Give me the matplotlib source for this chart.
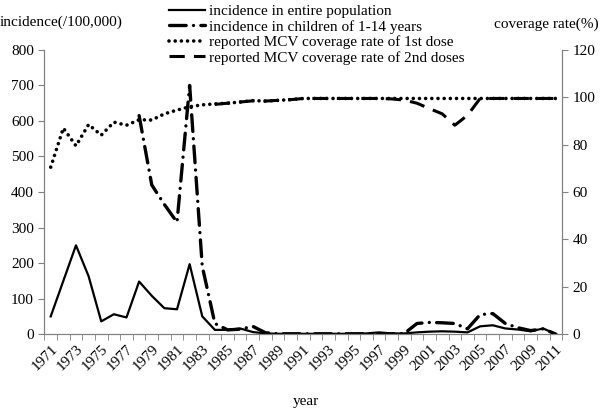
import numpy as np
import matplotlib
matplotlib.use("Agg")
import matplotlib.pyplot as plt

plt.rcParams['font.family'] = ['Liberation Serif', 'DejaVu Serif']

nan = np.nan
years = list(range(1971, 2012))

# incidence in entire population (/100,000)
incid_all = [50, 150, 250, 163, 36, 56, 47, 148, 108, 73,
             70, 197, 50, 12, 12, 16, 6, 2, 1, 1,
             1, 1, 1, 1, 1, 2, 5, 2, 2, 5,
             7, 8, 7, 5, 22, 25, 16, 13, 8, 16, 0]

# incidence in children of 1-14 years (/100,000)
incid_child = [nan, nan, nan, nan, nan, nan, nan, 615, 420, 365,
               315, 700, 191, 30, 12, 14, 22, 4, 1, 1,
               1, 1, 1, 1, 1, 1, 1, 1, 2, 30,
               33, 32, 30, 15, 55, 58, 30, 18, 10, 15, 0]

# reported MCV coverage rate, 1st dose (%)
cov_1st = [70.5, 87, 79.5, 88.5, 84, 89.5, 88.2, 90.5, 90.4, 93,
           94.6, 96, 96.8, 97.2, 97.5, 98, 98.6, 98.4, 98.7, 99,
           99.5, 99.5, 99.5, 99.5, 99.5, 99.5, 99.5, 99.5, 99.5, 99.5,
           99.5, 99.5, 99.5, 99.5, 99.5, 99.5, 99.5, 99.5, 99.5, 99.5, 99.5]

# reported MCV coverage rate, 2nd doses (%)
cov_2nd = [nan, nan, nan, nan, nan, nan, nan, nan, nan, nan,
           nan, nan, nan, 97, 97.5, 98, 98.5, 98.4, 98.7, 99,
           99.5, 99.5, 99.5, 99.5, 99.5, 99.5, 99.5, 99.3, 98.8, 97.5,
           95.2, 93, 88.2, 92.4, 99.5, 99.5, 99.5, 99.5, 99.5, 99.5, 99.5]

fig = plt.figure(figsize=(6, 4.09), dpi=100)
ax = fig.add_axes([0.074, 0.183, 0.863, 0.695])
ax2 = ax.twinx()

l1, = ax.plot(years, incid_all, color='black', lw=1.6, label='incidence in entire population')
l2, = ax.plot(years, incid_child, color='black', lw=2.4,
              linestyle=(0, (5, 2.2, 0.01, 2.2)), dash_capstyle='round',
              label='incidence in children of 1-14 years')
l3, = ax2.plot(years, cov_1st, color='black', lw=2.6,
               linestyle=(0, (0.01, 1.7)), dash_capstyle='round',
               label='reported MCV coverage rate of 1st dose')
l4, = ax2.plot(years, cov_2nd, color='black', lw=2.2,
               linestyle=(0, (5, 3)), label='reported MCV coverage rate of 2nd doses')

ax.set_xlim(1970.5, 2011.5)
ax.set_ylim(0, 800)
ax2.set_ylim(0, 120)
ax.set_yticks(range(0, 801, 100))
ax2.set_yticks(range(0, 121, 20))

ax.set_xticks(years[::2])
ax.set_xticklabels([str(y) for y in years[::2]], rotation=45, ha='right',
                   va='top', rotation_mode='anchor', fontsize=11)
ax.set_xticks(np.arange(1970.5, 2012, 1), minor=True)
ax.tick_params(axis='x', which='major', length=0, pad=6)
ax.tick_params(axis='x', which='minor', length=4, color='#808080', direction='out')
ax.tick_params(axis='y', labelsize=11, length=4, color='#808080')
ax2.tick_params(axis='y', labelsize=11, length=4, color='#808080')

for a in (ax, ax2):
    a.spines['top'].set_visible(False)
    a.spines['left'].set_color('#808080')
    a.spines['right'].set_color('#808080')
    a.spines['bottom'].set_color('#808080')

fig.text(0.0, 0.945, 'incidence(/100,000)', fontsize=11, ha='left', va='center')
fig.text(0.998, 0.94, 'coverage rate(%)', fontsize=11, ha='right', va='center')
fig.text(0.51, 0.018, 'year', fontsize=11, ha='center', va='center')

fig.legend(handles=[l1, l2, l3, l4], loc='upper left', bbox_to_anchor=(0.267, 1.012),
           frameon=False, fontsize=11, handlelength=2.3, handletextpad=0.3,
           labelspacing=0.12, borderpad=0.1)

fig.savefig('out.png', dpi=100)
